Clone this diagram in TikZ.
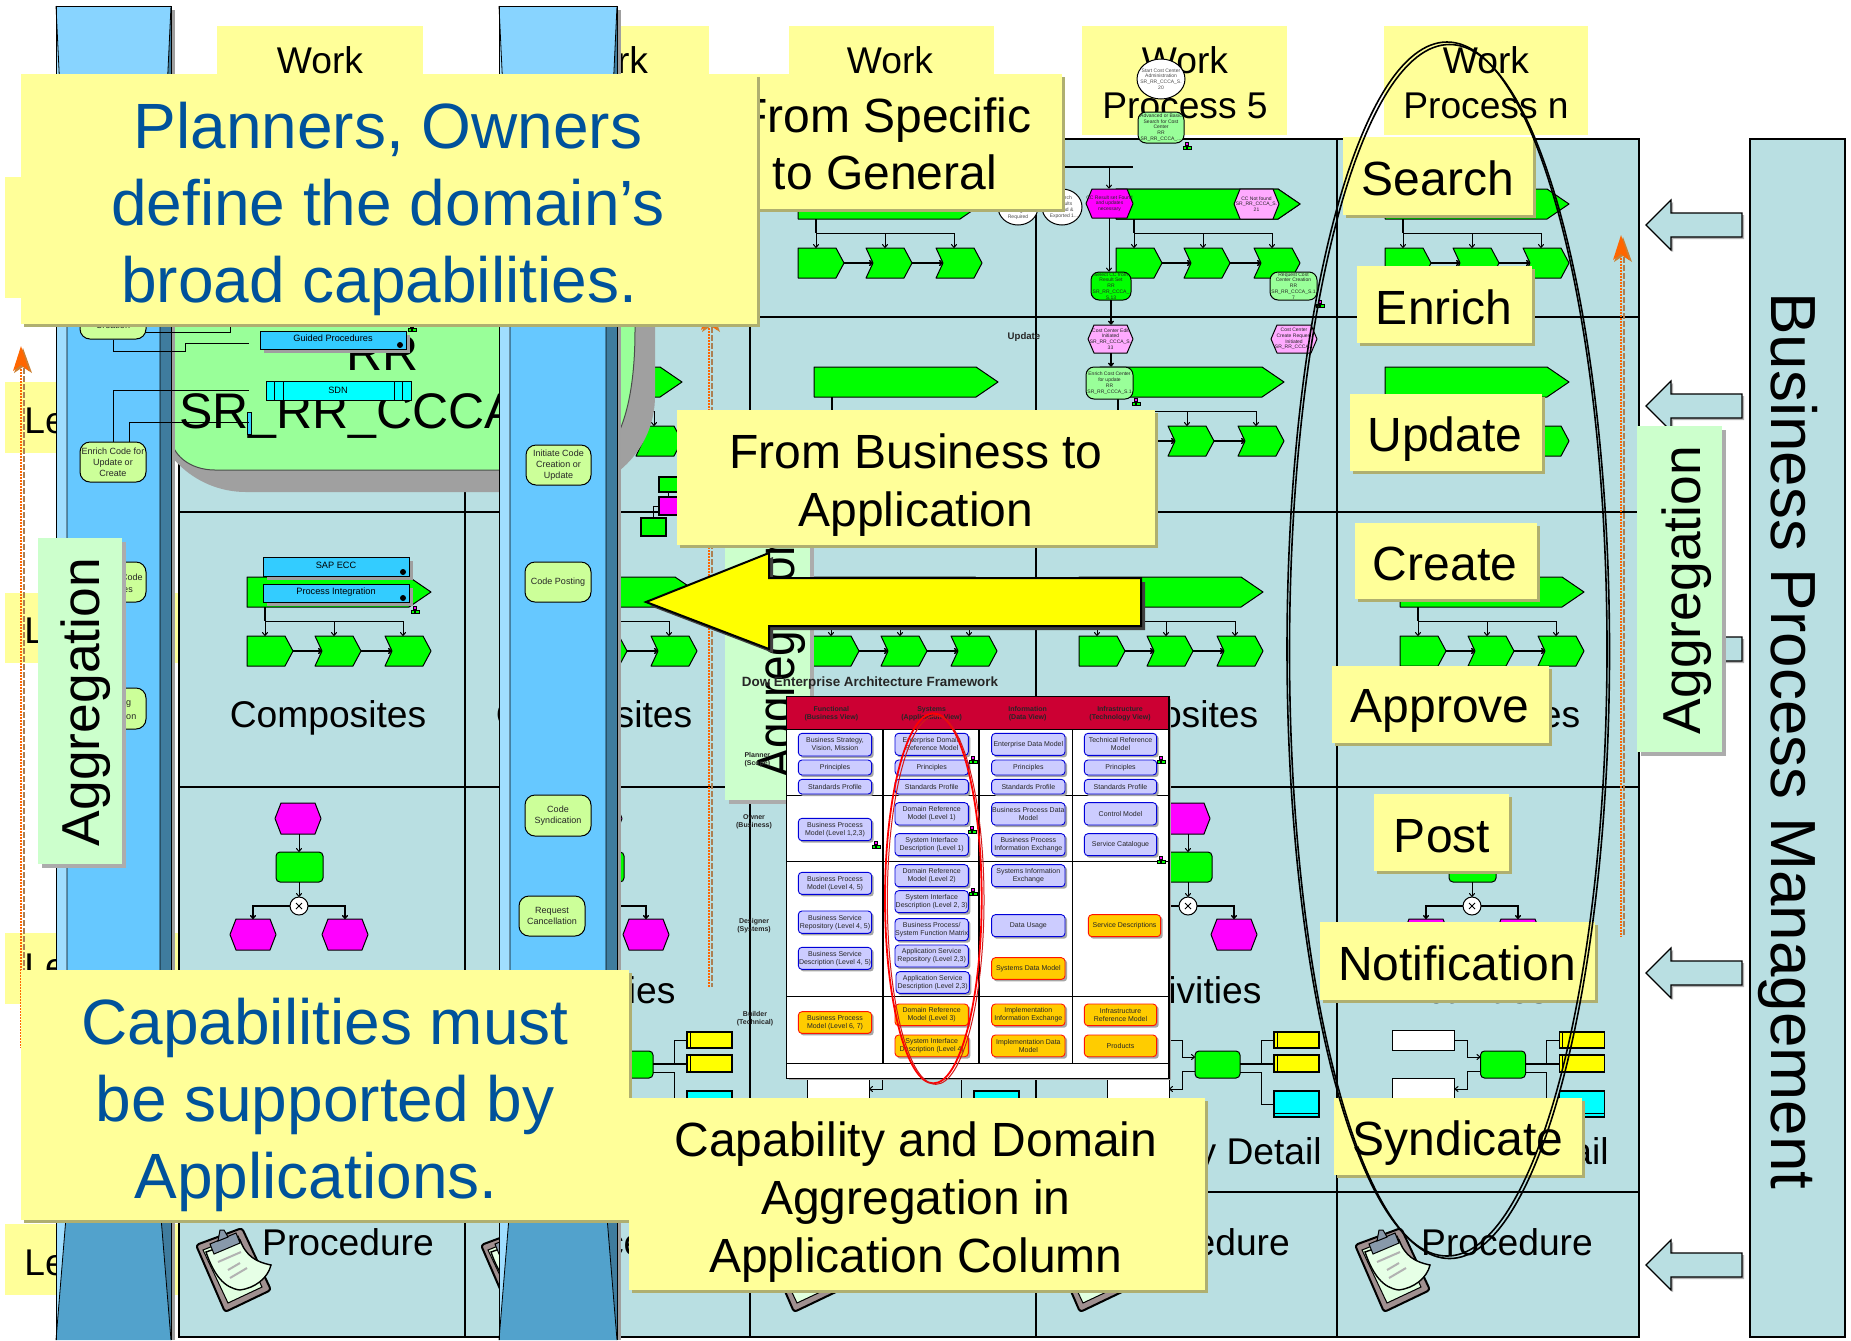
\documentclass[tikz,border=0pt]{standalone}
\usepackage{fontspec}
\setmainfont{Liberation Sans}
\usetikzlibrary{arrows.meta,calc}
\definecolor{pale}{HTML}{FFFF99}
\definecolor{palesh}{HTML}{AFAF70}
\definecolor{matrixc}{HTML}{B9DFE2}
\definecolor{mint}{HTML}{CCFFCC}
\definecolor{deepblue}{HTML}{00529B}
\definecolor{lightg}{HTML}{99FF99}
\definecolor{pinkh}{HTML}{FFAAFF}
\definecolor{pillc}{HTML}{CCFF99}
\definecolor{orangel}{HTML}{FF6600}
\definecolor{skyb}{HTML}{33CCFF}
\definecolor{fwred}{HTML}{CC0033}
\definecolor{fwblue}{HTML}{CCCCFF}
\definecolor{fworange}{HTML}{FFCC00}
\definecolor{magenta}{HTML}{FF00FF}
\definecolor{cyan}{HTML}{00FFFF}
\definecolor{yellow}{HTML}{FFFF00}
\definecolor{green}{HTML}{00FF00}
\definecolor{clipb}{HTML}{A09090}
\definecolor{clipg}{HTML}{8899AA}
\definecolor{sky}{HTML}{66C8FF}
\definecolor{skyl}{HTML}{A0DEFF}
\definecolor{skytop}{HTML}{88D4FF}
\definecolor{dkb}{HTML}{3F7C9E}
\definecolor{botb}{HTML}{52A2CC}
\definecolor{greyzone}{HTML}{A0A0A0}
\newcounter{fwn}
\tikzset{
  px/.style={x=0.5pt,y=-0.5pt},
  grid/.style={draw=black,line width=0.9pt},
  conn/.style={draw=black,line width=0.5pt},
  arr/.style={conn,-{To[length=2pt,width=3pt]}},
  funcg/.style={fill=green,draw=black,line width=0.5pt,line join=round},
  hexm/.style={fill=magenta,draw=black,line width=0.5pt,line join=round},
  hexp/.style={fill=pinkh,draw=black,line width=0.5pt,line join=round},
  tiny/.style={font=\fontsize{2.5}{2.9}\selectfont,align=center,inner sep=0pt,text=black!85},
  pilltext/.style={font=\fontsize{4.5}{5.5}\selectfont,align=center,inner sep=0pt,text=black!85},
  blu/.style={font=\fontsize{4.6}{5}\selectfont,align=center,inner sep=0pt},
  big/.style={font=\fontsize{24}{28.8}\selectfont,align=center,inner sep=0pt},
  huge/.style={font=\fontsize{32}{38.4}\selectfont,align=center,inner sep=0pt,text=deepblue},
  tab/.style={font=\fontsize{18.6}{22.4}\selectfont,align=center,inner sep=0pt},
  agg/.style={font=\fontsize{26.7}{30}\selectfont,inner sep=0pt,rotate=90},
  fwt/.style={font=\fontsize{3.5}{4}\selectfont,align=center,inner sep=0pt,text=black!85},
  fwb/.style={font=\fontsize{3.5}{4}\selectfont\bfseries,align=center,inner sep=0pt,text=black!85},
  fwbl/.style={fill=fwblue,draw=blue!85!black},
  fwor/.style={fill=fworange,draw=red!85!orange},
}
% region node: name x0 y0 x1 y1 style text
\newcommand{\regionnode}[7]{%
  \pgfmathsetmacro\pw{0.5*abs(#4-#2)}\pgfmathsetmacro\ph{0.5*abs(#5-#3)}%
  \node[#6,minimum width=\pw pt,minimum height=\ph pt] (#1) at ({(#2+#4)/2},{(#3+#5)/2}) {#7};}
% callout: name x0 y0 x1 y1 tx ty style text
\newcommand{\callout}[9]{%
  \fill[palesh] ({#2+3},{#3+3}) rectangle ({#4+3},{#5+3});
  \fill[pale] (#2,#3) rectangle (#4,#5);
  \node[#8] (#1) at (#6,#7) {#9};}
\newcommand{\pent}[4]{\path[funcg] (#1,#2) -- ({#3-8},#2) -- (#3,{(#2+#4)/2}) -- ({#3-8},#4) -- (#1,#4) -- cycle;}
\newcommand{\chev}[4]{\path[funcg] (#1,#2) -- ({#3-8},#2) -- (#3,{(#2+#4)/2}) -- ({#3-8},#4) -- (#1,#4) -- ({#1+7},{(#2+#4)/2}) -- cycle;}
\newcommand{\hexa}[5]{\path[#5] ({#1+6},#2) -- ({#3-6},#2) -- (#3,{(#2+#4)/2}) -- ({#3-6},#4) -- ({#1+6},#4) -- (#1,{(#2+#4)/2}) -- cycle;}
% function row: x0 y0
\newcommand{\funcrow}[2]{%
  \path[funcg] (#1,#2) -- ({#1+162},#2) -- ({#1+184},{#2+15}) -- ({#1+162},{#2+30}) -- (#1,{#2+30}) -- cycle;
  \pent{#1}{#2+59}{#1+46}{#2+89}
  \chev{#1+68}{#2+59}{#1+114}{#2+89}
  \chev{#1+138}{#2+59}{#1+184}{#2+89}
  \draw[conn,line width=.7pt] ({#1+18},{#2+30}) -- ({#1+18},{#2+44});
  \draw[arr] ({#1+18},{#2+44}) -- ({#1+18},{#2+59});
  \draw[conn] ({#1+18},{#2+44}) -- ({#1+156},{#2+44});
  \draw[arr] ({#1+87},{#2+44}) -- ({#1+87},{#2+59});
  \draw[arr] ({#1+156},{#2+44}) -- ({#1+156},{#2+59});
  \draw[arr,line width=.7pt] ({#1+46},{#2+74}) -- ({#1+75},{#2+74});
  \draw[arr,line width=.7pt] ({#1+114},{#2+74}) -- ({#1+145},{#2+74});
}
% activities: dx
\newcommand{\act}[1]{%
  \hexa{#1+275}{803}{#1+321}{834}{hexm}
  \draw[funcg,rounded corners=2pt] ({#1+276},852) rectangle ({#1+323},882);
  \hexa{#1+230}{919}{#1+276}{950}{hexm}
  \hexa{#1+322}{919}{#1+368}{950}{hexm}
  \draw[arr] ({#1+299},834) -- ({#1+299},852);
  \draw[arr] ({#1+299},882) -- ({#1+299},897);
  \draw[conn,line width=.7pt,-{To[length=2pt,width=3pt]}] ({#1+299},906) -| ({#1+253},919);
  \draw[conn,line width=.7pt,-{To[length=2pt,width=3pt]}] ({#1+299},906) -| ({#1+345},919);
  \draw[fill=white,line width=.5pt] ({#1+299},906) circle [radius=9];
  \draw[line width=.4pt] ({#1+296},903) -- ({#1+302},909) ({#1+296},909) -- ({#1+302},903);
}
% detail: dx relative to last column
\newcommand{\detail}[1]{%
  \draw[fill=white,line width=.5pt] ({#1+1395},1030) rectangle ({#1+1457},1050);
  \draw[fill=white,line width=.5pt] ({#1+1395},1078) rectangle ({#1+1457},1100);
  \draw[arr] ({#1+1457},1040) -- ({#1+1470},1040) -- ({#1+1470},1057) -- ({#1+1483},1057);
  \draw[arr] ({#1+1483},1071) -- ({#1+1470},1071) -- ({#1+1470},1089) -- ({#1+1457},1089);
  \draw[funcg,rounded corners=2pt] ({#1+1483},1051) rectangle ({#1+1528},1078);
  \draw[conn,line width=.7pt] ({#1+1528},1064) -- ({#1+1562},1064);
  \draw[conn] ({#1+1549},1064) |- ({#1+1562},1040);
  \draw[conn] ({#1+1528},1072) -| ({#1+1549},1104) -- ({#1+1562},1104);
  \draw[fill=yellow,line width=.7pt] ({#1+1562},1032) rectangle ({#1+1607},1048);
  \draw[line width=.4pt] ({#1+1565},1032) -- ({#1+1565},1048);
  \draw[fill=yellow,line width=.7pt] ({#1+1562},1055) rectangle ({#1+1607},1072);
  \draw[line width=.4pt] ({#1+1565},1055) -- ({#1+1565},1072);
  \draw[fill=cyan,line width=.7pt] ({#1+1562},1091) rectangle ({#1+1607},1117);
  \draw[line width=.4pt] ({#1+1562},1113) -- ({#1+1607},1113);
}
\newcommand{\clipboard}[1]{%
  \begin{scope}[shift={(#1,0)}]
  \draw[fill=clipb,line width=1pt,rounded corners=1.5pt,line join=round] (196,1245) -- (242,1228) -- (271,1290) -- (225,1312) -- cycle;
  \draw[fill=mint!60!white,line width=.5pt] (203,1250) -- (238,1236) -- (262,1287) -- (228,1303) -- cycle;
  \draw[fill=mint!50!white,line width=.7pt] (206,1252) -- (240,1240) .. controls (246,1256) and (256,1262) .. (271,1265) .. controls (268,1278) and (255,1288) .. (240,1290) .. controls (224,1288) and (214,1275) .. (206,1252) -- cycle;
  \draw[fill=clipg,line width=.5pt] (210,1244) -- (236,1233) -- (240,1243) -- (214,1254) -- cycle;
  \draw[fill=clipg,line width=.5pt] (218,1241) -- (220,1230) -- (224,1230) -- (228,1237) -- cycle;
  \draw[gray!60,line width=1pt] (218,1262) -- (241,1252) (228,1270) -- (240,1263) (230,1278) -- (247,1268);
  \end{scope}}
\newcommand{\pillar}[2]{%
  \fill[gray!75] (#2,10) rectangle ({#2+4},1340);
  \fill[skyl] (#1,6) rectangle ({#1+11},1340);
  \fill[sky] ({#1+11},6) rectangle ({#2-11},1340);
  \fill[dkb] ({#2-11},6) rectangle (#2,1340);
  \fill[skytop] (#1,6) -- (#2,6) -- ({#2-11},240) -- ({#1+11},240) -- cycle;
  \fill[skyl] (#1,6) -- ({#1+11},240) -- (#1,240) -- cycle;
  \fill[botb] ({#1+11},1205) -- ({#2-11},1205) -- (#2,1340) -- (#1,1340) -- cycle;
  \draw[line width=.4pt] (#1,1340) -- (#1,6) -- (#2,6) -- (#2,1340);
  \draw[line width=.4pt] (#1,6) -- ({#1+11},240) -- ({#1+11},1205) -- (#1,1340);
  \draw[line width=.4pt] (#2,6) -- ({#2-11},240) -- ({#2-11},1205) -- (#2,1340);
}
\newcommand{\pillnode}[6]{%
  \regionnode{#1}{#2}{#3}{#4}{#5}{pilltext,draw=black,line width=.5pt,fill=pillc,rounded corners=5pt}{#6}}
\newcommand{\orgicon}[2]{%
  \draw[fill=magenta,line width=.5pt] ({#1-1.5},{#2-4}) rectangle ({#1+1.5},{#2-1});
  \draw[fill=green,line width=.5pt] ({#1-4},{#2}) rectangle ({#1-.5},{#2+3.5});
  \draw[fill=green,line width=.5pt] ({#1+.5},{#2}) rectangle ({#1+4},{#2+3.5});
}
\newcommand{\bluebox}[6]{%
  \fill[gray!75] ({#2+4},{#3+4}) rectangle ({#4+4},{#5+4});
  \regionnode{#1}{#2}{#3}{#4}{#5}{blu,draw=black,line width=.5pt,fill=skyb}{\raisebox{1.5pt}{#6}}
  \fill[black] ({#4-6},{#5-4}) circle [radius=3];
}
\newcommand{\blockarrow}[1]{%
  \fill[gray!60] (1648,{#1+2}) -- (1673,{#1-23}) -- (1673,{#1-10}) -- (1744,{#1-10}) -- (1744,{#1+14}) -- (1673,{#1+14}) -- (1673,{#1+27}) -- cycle;
  \draw[fill=matrixc,line width=.6pt] (1646,#1) -- (1671,{#1-25}) -- (1671,{#1-12}) -- (1742,{#1-12}) -- (1742,{#1+12}) -- (1671,{#1+12}) -- (1671,{#1+25}) -- cycle;
}
\newcommand{\orangeline}[3]{% x ytop ybottom
  \draw[line width=.7pt,dash pattern=on 3pt off 1pt,color=brown!70!gray] ({#1+3},{#2+22}) -- ({#1+3},#3);
  \draw[line width=1.2pt,dash pattern=on 1pt off .5pt,color=orangel] (#1,{#2+20}) -- (#1,#3);
  \fill[brown!80!orange] ({#1+2},{#2+2}) -- ({#1+11},{#2+27}) -- ({#1+2},{#2+21}) -- ({#1-7},{#2+27}) -- cycle;
  \fill[orangel] (#1,#2) -- ({#1+8},{#2+25}) -- (#1,{#2+19}) -- ({#1-8},{#2+25}) -- cycle;
}
\newcommand{\fw}[6]{% x0 y0 x1 y1 kind text
  \stepcounter{fwn}%
  \fill[gray!70,rounded corners=1.5pt] ({#1+6},{#2+6}) rectangle ({#3+6},{#4+6});
  \pgfmathsetmacro\pw{abs(#3-#1)/6}\pgfmathsetmacro\ph{abs(#4-#2)/6}%
  \node[fwt,#5,minimum width=\pw pt,minimum height=\ph pt,rounded corners=1.8pt,line width=.45pt] (fw\arabic{fwn}) at ({(#1+#3)/2},{(#2+#4)/2}) {#6};
}
\begin{document}
\begin{tikzpicture}[px]
\useasboundingbox (0,0) rectangle (1851,1340);
\fill[white] (0,0) rectangle (1851,1340);

% ---------- work tabs
\fill[pale] (217,26) rectangle (423,135);
\fill[pale] (503,26) rectangle (709,135);
\fill[pale] (789,26) rectangle (994,135);
\fill[pale] (1082,26) rectangle (1287,135);
\fill[pale] (1384,26) rectangle (1588,135);
\node[tab] (w1) at (320,60) {Work};
\node[tab] (w2) at (605,60) {Work};
\node[tab] (w3) at (890,60) {Work};
\node[tab] (w4) at (1185,60) {Work};
\node[tab] (p4) at (1185,106) {Process 5};
\node[tab] (w5) at (1486,60) {Work};
\node[tab] (p5) at (1486,106) {Process n};

% ---------- level tabs
\fill[pale] (5,177) rectangle (180,298);
\fill[pale] (5,382) rectangle (180,453);
\fill[pale] (5,593) rectangle (180,663);
\fill[pale] (5,933) rectangle (180,1004);
\fill[pale] (5,1224) rectangle (180,1295);
\node[tab,anchor=west] (l2) at (24,421) {Le};
\node[tab,anchor=west] (l3) at (24,631) {Le};
\node[tab,anchor=west] (l4) at (24,967) {Le};
\node[tab,anchor=west] (l5) at (24,1263) {Le};

% ---------- matrix
\draw[grid,fill=matrixc] (179,139) rectangle (1639,1337);
\foreach \yy in {317,512,787,1192} \draw[grid] (179,\yy) -- (1639,\yy);
\foreach \xx in {465,750,1036,1337} \draw[grid] (\xx,139) -- (\xx,1337);

% ---------- process rows
\funcrow{498}{189}
\funcrow{798}{189}
\funcrow{1116}{189}
\funcrow{1385}{189}
\funcrow{498}{367}
\funcrow{814}{367}
\funcrow{1100}{367}
\funcrow{1385}{367}
\funcrow{513}{577}
\funcrow{813}{577}
\funcrow{1079}{577}
\funcrow{1400}{577}
\funcrow{247}{577}
\act{0}\act{301}\act{889}\act{1173}
\detail{-875}\detail{-588}\detail{-288}\detail{-2.5}

% labels in cells
\node[tab] (c1) at (328,718) {Composites};
\node[tab] (c2) at (594,718) {Composites};
\node[tab] (c4) at (1160,718) {Composites};
\node[tab] (c5) at (1482,718) {Composites};
\node[tab] (a2) at (602,990) {Activities};
\node[tab] (a4) at (1188,990) {Activities};
\node[tab] (a5) at (1475,990) {Activities};
\node[tab] (d4) at (1210,1155) {Activity Detail};
\node[tab] (d5) at (1497,1155) {Activity Detail};
\clipboard{0}\clipboard{285}\clipboard{569}\clipboard{855}\clipboard{1159}
\node[tab] (pr1) at (348,1242) {Procedure};
\node[tab] (pr2) at (633,1242) {Procedure};
\node[tab] (pr4) at (1204,1242) {Procedure};
\node[tab] (pr5) at (1507,1242) {Procedure};

% small org chart at col 2
\draw[conn] (668,492) -- (668,497) (659,506) -- (653,506) -- (653,518);
\draw[fill=green,line width=.7pt] (659,477) rectangle (678,492);
\draw[fill=magenta,line width=.7pt] (659,497) rectangle (678,515);
\draw[fill=green,line width=.7pt] (641,518) rectangle (666,536);

% ---------- detailed flow in column 4
\path[funcg] (1116,189) -- (1278,189) -- (1300,204) -- (1278,219) -- (1116,219) -- cycle;
\draw[conn,line width=.7pt] (1050,167) -- (1133,167);
\draw[fill=white,line width=.5pt] (1018,207) ellipse [x radius=20,y radius=18];
\draw[fill=white,line width=.5pt] (1062,207) ellipse [x radius=20,y radius=18];
\node[tiny,text=black!70] (ce1) at (1018,214) {Changes\\Required};
\node[tiny,text=black!70] (ce2) at (1064,207) {Search\\Results\\Found \&\\Exported 1...};
\hexa{1086}{189}{1133}{218}{hexm}
\hexa{1234}{189}{1279}{219}{hexp}
\hexa{1088}{325}{1133}{353}{hexp}
\hexa{1271}{325}{1317}{353}{hexp}
\draw[fill=green,line width=.5pt,rounded corners=4pt] (1091,272) rectangle (1131,300);
\draw[fill=lightg,line width=.5pt,rounded corners=4pt] (1270,272) rectangle (1317,300);
\draw[fill=lightg,line width=.5pt,rounded corners=4pt] (1086,367) rectangle (1133,399);
\draw[fill=lightg,line width=.5pt,rounded corners=4pt] (1138,112) rectangle (1184,143);
\draw[fill=white,line width=.5pt] (1161,79) ellipse [x radius=24,y radius=20];
\regionnode{nresult}{1086}{189}{1133}{218}{tiny}{CC Result set Found\\and updates\\necessary}
\regionnode{nnotfound}{1234}{189}{1279}{219}{tiny}{CC Not found\\SR\_RR\_CCCA\_S.\\21}
\regionnode{nselect}{1091}{272}{1131}{300}{tiny}{Select CC from\\Result Set\\RR\\SR\_RR\_CCCA\_\\S.13}
\regionnode{nrequest}{1270}{272}{1317}{300}{tiny}{Request Cost\\Center Creation\\RR\\SR\_RR\_CCCA\_S.1\\7}
\regionnode{nedit}{1088}{325}{1133}{353}{tiny}{Cost Center Edit\\Initiated\\SR\_RR\_CCCA\_S.\\33}
\regionnode{ncreate}{1271}{325}{1317}{353}{tiny}{Cost Center\\Create Request\\Initiated\\SR\_RR\_CCCA...}
\regionnode{nenrich}{1086}{367}{1133}{399}{tiny}{Enrich Cost Center\\for update\\RR\\SR\_RR\_CCCA\_S.1}
\regionnode{nadv}{1138}{112}{1184}{143}{tiny}{Advanced or Basic\\Search for Cost\\Center\\RR\\SR\_RR\_CCCA\_...}
\node[tiny,text=black!70] (nstart) at (1161,79) {Start Cost Center\\Administration\\SR\_RR\_CCCA\_S.\\20};
\coordinate (ntop) at (1109,167);
\draw[arr] (ntop) -- (nresult.north -| ntop);
\draw[arr] (nresult.south -| ntop) -- (nselect.north -| ntop);
\draw[arr,line width=.7pt] (nselect.south) -- (nedit.north -| nselect.south);
\draw[arr,line width=.7pt] (nedit.south -| nselect.south) -- (nenrich.north -| nselect.south);
\node[font=\fontsize{4.8}{5}\selectfont\bfseries,inner sep=0pt,text=black!85] (nupdate) at (1024,337) {Update};
\orgicon{1187}{146}\orgicon{1320}{304}\orgicon{1136}{402}
\orgicon{415}{610}

% ---------- SAP boxes col 1
\bluebox{nsap}{263}{557}{409}{576}{SAP ECC}
\bluebox{nintegr}{263}{584}{409}{602}{Process Integration}

% ---------- capability area
\fill[greyzone,rounded corners=48pt] (150,150) rectangle (655,492);
\draw[fill=lightg,draw=black!70,line width=.5pt] (170,150) -- (170,432) .. controls (170,455) and (190,470) .. (215,470) -- (610,470) -- (612,445) .. controls (628,420) and (635,380) .. (635,330) -- (635,150) -- cycle;
\node[font=\fontsize{25}{30}\selectfont,inner sep=0pt] (nrr) at (383,353) {RR};
\node[font=\fontsize{25}{30}\selectfont,inner sep=0pt,anchor=base west] (nsr) at (179,428) {SR\_RR\_CCCA};
\fill[gray!75] (264,335) rectangle (410,353);
\bluebox{nguided}{260}{331}{406}{349}{Guided Procedures}
\draw[fill=cyan,line width=.5pt] (266,381) rectangle (411,400);
\draw[line width=.4pt] (274,381) -- (274,400) (283,381) -- (283,400) (394,381) -- (394,400) (402,381) -- (402,400);
\node[blu] (nsdn) at (338,390) {SDN};
\draw[fill=skyb,line width=.4pt] (247,412) rectangle (251,434);
\orgicon{412}{328}

% ---------- pillars
\pillar{56}{171}
\pillar{499}{617}
\pillnode{pcreation}{80}{300}{146}{339}{\\[4pt]Creation}
\pillnode{penrich}{80}{442}{146}{482}{Enrich Code for\\Update or\\Create}
\pillnode{pcode}{80}{562}{146}{602}{}
\node[pilltext] (tcode) at (132,577) {Code};
\node[pilltext] (tes) at (128,590) {es};
\pillnode{ption}{80}{688}{146}{729}{}
\node[pilltext] (tng) at (126,704) {ng};
\node[pilltext] (ttion) at (129,716) {tion};
\pillnode{pinit}{526}{445}{591}{485}{Initiate Code\\Creation or\\Update}
\pillnode{ppost}{525}{562}{591}{602}{Code Posting}
\pillnode{psyn}{525}{795}{591}{836}{Code\\Syndication}
\pillnode{preq}{519}{896}{585}{936}{Request\\Cancellation}
% connectors over the pillar
\draw[conn] (penrich.north -| 113,0) -- (113,390) -- (249,390);
\draw[conn] (129,442) -- (129,422) -- (249,422);
\draw[conn] (pcreation.south -| 113,0) -- (113,351) -- (185,351) -- (185,343) -- (249,343);
\draw[conn] (146,332) -- (230,332) -- (230,323);

% ---------- orange lines
\orangeline{21}{346}{1048}
\orangeline{709}{305}{987}
\orangeline{1621}{235}{937}

% ---------- right column
\draw[grid,fill=matrixc] (1750,139) rectangle (1845,1337);
\node[font=\fontsize{31.9}{36}\selectfont,inner sep=0pt,rotate=-90] (nbpm) at (1788,741) {Business Process Management};
\blockarrow{225}\blockarrow{406}\blockarrow{649}\blockarrow{973}\blockarrow{1265}

% ---------- aggregation boxes
\fill[gray!65] (42,542) rectangle (126,868);
\fill[mint] (38,538) rectangle (122,864);
\node[agg] (ag1) at (86,702) {Aggregation};
\fill[gray!65] (729,480) rectangle (814,804);
\fill[mint] (725,476) rectangle (810,800);
\node[agg] (ag2) at (781,655) {\scalebox{.86}[1]{Aggregation}};
\fill[gray!65] (1641,430) rectangle (1726,756);
\fill[mint] (1637,426) rectangle (1722,752);
\node[agg] (ag3) at (1687,590) {Aggregation};

% ---------- framework
\node[font=\fontsize{6.7}{8}\selectfont\bfseries,inner sep=0pt,text=black!85] (ntitle) at (870,683) {Dow Enterprise Architecture Framework};
\begin{scope}[shift={(740,680)},x=0.16667pt,y=-0.16667pt]
\fill[gray!70] (146,56) rectangle (1294,1201);
\draw[fill=white,line width=.7pt] (140,50) rectangle (1287,1195);
\fill[fwred] (140,50) rectangle (1287,148);
\draw[line width=.7pt] (140,50) rectangle (1287,148);
\draw[line width=.9pt] (428,148) -- (428,1150) (718,148) -- (718,1150);
\draw[line width=.7pt] (998,148) -- (998,1150);
\draw[line width=.6pt] (140,347) -- (1287,347) (140,545) -- (1287,545) (140,950) -- (1287,950) (140,1150) -- (1287,1150);
\node[fwb] (h1) at (274,100) {Functional\\(Business View)};
\node[fwb] (h2) at (575,100) {Systems\\(Application View)};
\node[fwb] (h3) at (863,100) {Information\\(Data View)};
\node[fwb] (h4) at (1140,100) {Infrastructure\\(Technology View)};
\node[fwb,anchor=center] (r1) at (52,240) {Planner\\(Scope)};
\node[fwb] (r2) at (42,425) {Owner\\(Business)};
\node[fwb] (r3) at (42,738) {Designer\\(Systems)};
\node[fwb] (r4) at (45,1015) {Builder\\(Technical)};
% column A
\fw{175}{160}{395}{228}{fwbl}{Business Strategy,\\Vision, Mission}
\fw{175}{240}{395}{285}{fwbl}{Principles}
\fw{175}{298}{395}{342}{fwbl}{Standards Profile}
\fw{175}{415}{395}{482}{fwbl}{Business Process\\Model (Level 1,2,3)}
\fw{175}{577}{395}{643}{fwbl}{Business Process\\Model (Level 4, 5)}
\fw{175}{693}{395}{760}{fwbl}{Business Service\\Repository (Level 4, 5)}
\fw{175}{802}{395}{868}{fwbl}{Business Service\\Description (Level 4, 5)}
\fw{175}{995}{395}{1060}{fwor}{Business Process\\Model (Level 6, 7)}
% column B
\fw{465}{160}{685}{226}{fwbl}{Enterprise Domain\\Reference Model}
\fw{465}{240}{685}{285}{fwbl}{Principles}
\fw{465}{298}{685}{342}{fwbl}{Standards Profile}
\fw{465}{368}{685}{435}{fwbl}{Domain Reference\\Model (Level 1)}
\fw{465}{461}{685}{527}{fwbl}{System Interface\\Description (Level 1)}
\fw{465}{554}{685}{620}{fwbl}{Domain Reference\\Model (Level 2)}
\fw{465}{632}{685}{698}{fwbl}{System Interface\\Description (Level 2, 3)}
\fw{465}{716}{685}{782}{fwbl}{Business Process/\\System Function Matrix}
\fw{465}{795}{685}{861}{fwbl}{Application Service\\Repository (Level 2,3)}
\fw{468}{875}{688}{940}{fwbl}{Application Service\\Description (Level 2,3)}
\fw{465}{972}{685}{1037}{fwor}{Domain Reference\\Model (Level 3)}
\fw{465}{1065}{685}{1130}{fwor}{System Interface\\Description (Level 4)}
% column C
\fw{755}{160}{975}{226}{fwbl}{Enterprise Data Model}
\fw{755}{240}{975}{285}{fwbl}{Principles}
\fw{755}{298}{975}{342}{fwbl}{Standards Profile}
\fw{755}{368}{975}{435}{fwbl}{Business Process Data\\Model}
\fw{755}{461}{975}{527}{fwbl}{Business Process\\Information Exchange}
\fw{755}{554}{975}{620}{fwbl}{Systems Information\\Exchange}
\fw{755}{704}{975}{770}{fwbl}{Data Usage}
\fw{755}{833}{975}{898}{fwor}{Systems Data Model}
\fw{755}{972}{975}{1037}{fwor}{Implementation\\Information Exchange}
\fw{755}{1065}{975}{1130}{fwor}{Implementation Data\\Model}
% column D
\fw{1033}{160}{1250}{226}{fwbl}{Technical Reference\\Model}
\fw{1033}{240}{1250}{285}{fwbl}{Principles}
\fw{1033}{298}{1250}{342}{fwbl}{Standards Profile}
\fw{1033}{368}{1250}{435}{fwbl}{Control Model}
\fw{1033}{461}{1250}{527}{fwbl}{Service Catalogue}
\fw{1045}{704}{1262}{770}{fwor}{Service Descriptions}
\fw{1033}{972}{1250}{1037}{fwor}{Infrastructure\\Reference Model}
\fw{1033}{1065}{1250}{1130}{fwor}{Products}
% red ellipse
\draw[red,line width=.9pt] (580,655) ellipse [x radius=145,y radius=555];
\draw[red!80!black!90,line width=.5pt] (587,660) ellipse [x radius=145,y radius=553];
\end{scope}
\orgicon{973}{760}\orgicon{972}{830}\orgicon{876}{845}\orgicon{973}{892}\orgicon{1161}{760}\orgicon{1161}{860}

% ---------- callouts
\callout{csearch}{1343}{137}{1533}{215}{1438}{178}{big}{Search}
\callout{cenrich}{1357}{266}{1532}{343}{1444}{307}{big}{Enrich}
\callout{cupdate}{1350}{394}{1542}{471}{1445}{439}{big}{Update}
\callout{ccreate}{1355}{523}{1537}{599}{1445}{564}{big}{Create}
\callout{capprove}{1332}{666}{1549}{743}{1440}{711}{big}{Approve}
\callout{cpost}{1374}{794}{1509}{871}{1442}{836}{big}{Post}
\callout{cnotif}{1320}{922}{1595}{1000}{1457}{963}{big}{Notification}
\callout{csynd}{1334}{1098}{1582}{1175}{1458}{1143}{big}{Syndicate}
\callout{cspec}{700}{74}{1062}{209}{885}{144}{big}{From Specific\\to General}
\callout{cplan}{21}{74}{757}{324}{388}{209}{huge}{Planners, Owners\\define the domain’s\\broad capabilities.\hspace*{8.9pt}}
\callout{cbus}{677}{410}{1155}{545}{916}{485}{big}{From Business to\\Application}
\callout{cmust}{21}{970}{629}{1220}{325}{1105}{huge}{Capabilities must\\be supported by\\Applications.\hspace*{8.9pt}}
\callout{ccap}{629}{1098}{1205}{1290}{916}{1202}{big}{Capability and Domain\\Aggregation in\\Application Column}

% ---------- yellow arrow
\fill[black!75] (650,606) -- (773,557) -- (773,582) -- (1145,582) -- (1145,630) -- (773,630) -- (773,653) -- cycle;
\draw[fill=yellow,line width=1pt,line join=miter] (646,602) -- (769,553) -- (769,578) -- (1141,578) -- (1141,626) -- (769,626) -- (769,649) -- cycle;

% ---------- big ellipse
\draw[line width=.8pt] (1447,649) ellipse [x radius=160,y radius=607];
\draw[line width=.8pt] (1449.5,651.5) ellipse [x radius=160,y radius=607];
\end{tikzpicture}
\end{document}
